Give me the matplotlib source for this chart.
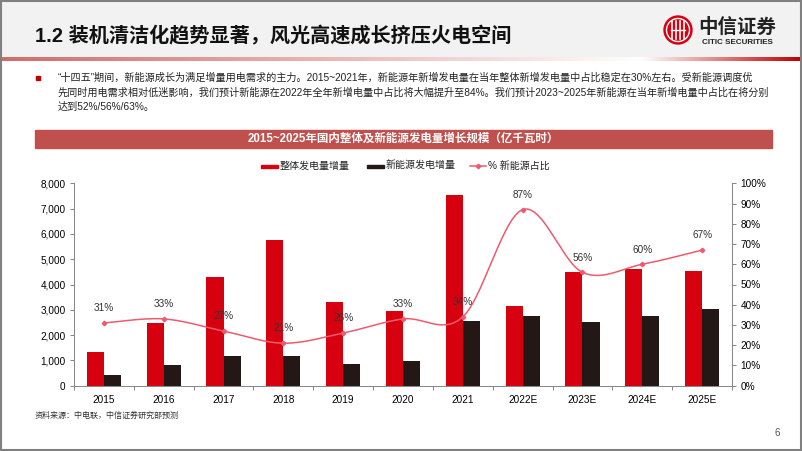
import numpy as np
import matplotlib
matplotlib.use("Agg")
import matplotlib.pyplot as plt
from matplotlib.patches import Rectangle, Circle

plt.rcParams['font.family'] = ['Liberation Sans', 'Noto Sans CJK SC', 'DejaVu Sans']

# data
years = ["2015", "2016", "2017", "2018", "2019", "2020", "2021",
         "2022E", "2023E", "2024E", "2025E"]
total_add = [1345, 2490, 4285, 5760, 3310, 2965, 7540, 3140, 4480, 4625, 4545]
new_add = [410, 805, 1160, 1185, 860, 975, 2545, 2745, 2520, 2755, 3030]
new_share = [0.31, 0.33, 0.27, 0.21, 0.26, 0.33, 0.34, 0.87, 0.56, 0.60, 0.67]
share_labels = ["31%", "33%", "27%", "21%", "26%", "33%", "34%", "87%", "56%", "60%", "67%"]

title = "1.2 装机清洁化趋势显著，风光高速成长挤压火电空间"
bullet_lines = [
    "“十四五”期间，新能源成长为满足增量用电需求的主力。2015~2021年，新能源年新增发电量在当年整体新增发电量中占比稳定在30%左右。受新能源调度优",
    "先同时用电需求相对低迷影响，我们预计新能源在2022年全年新增电量中占比将大幅提升至84%。我们预计2023~2025年新能源在当年新增电量中占比在将分别",
    "达到52%/56%/63%。",
]
chart_title = "2015~2025年国内整体及新能源发电量增长规模（亿千瓦时）"
legend_names = ["整体发电量增量", "新能源发电增量", "% 新能源占比"]
source = "资料来源：中电联，中信证券研究部预测"

RED = "#D7000F"
BLACK = "#231815"
LINE = "#EE5A6E"
GRAY = "#898989"
W, H = 802, 451


def smooth(xs, ys, n=30):
    # excel-like smoothing: bezier through points, control = neighbour diff / 6
    pts = np.column_stack([xs, ys]).astype(float)
    p = np.vstack([pts[0], pts, pts[-1]])
    out = []
    t = np.linspace(0, 1, n)[:, None]
    for i in range(1, len(p) - 2):
        p0, p3 = p[i], p[i + 1]
        c1 = p0 + (p[i + 1] - p[i - 1]) / 6.0
        c2 = p3 - (p[i + 2] - p[i]) / 6.0
        seg = ((1 - t) ** 3) * p0 + 3 * ((1 - t) ** 2) * t * c1 + 3 * (1 - t) * t ** 2 * c2 + t ** 3 * p3
        out.append(seg if i == 1 else seg[1:])
    out = np.vstack(out)
    return out[:, 0], out[:, 1]


fig = plt.figure(figsize=(W / 100, H / 100), dpi=100)

# page decoration in pixel coords
deco = fig.add_axes([0, 0, 1, 1])
deco.axis("off")

deco.add_patch(Rectangle((0, 0), W, 58, color="#F2F2F2", zorder=0))
# header gradient line
grad = np.linspace(0, 1, 400)
c_left = np.array([0.82, 0.42, 0.42])
c_mid = np.array([1.0, 1.0, 1.0])
c_right = np.array([0.75, 0.0, 0.0])
cols = []
for g in grad:
    if g < 0.8:
        f = g / 0.8
        cols.append(c_left * (1 - f) + c_mid * f)
    else:
        f = (g - 0.8) / 0.2
        cols.append(c_mid * (1 - f) + c_right * f)
cols = np.array(cols)[None, :, :]
deco.imshow(cols, extent=(0, W, 61.5, 58), aspect="auto", zorder=1)
deco.set_xlim(0, W)
deco.set_ylim(H, 0)

deco.text(35, 36, title, fontsize=14.5, fontweight="bold", color="#111111",
          va="center", ha="left")

# logo
deco.add_patch(Circle((678, 30), 14, color="#D7000F", zorder=2))
deco.add_patch(Circle((678, 30), 11.5, fill=False, ec="white", lw=1.0, zorder=3))
for dx in (-6, -2, 2, 6):
    deco.plot([678 + dx, 678 + dx], [21, 39], color="white", lw=1.2, zorder=3)
deco.plot([671, 685], [30, 30], color="white", lw=1.0, zorder=3)
deco.text(737, 27, "中信证券", fontsize=14, fontweight="bold", color="#222222",
          ha="center", va="center", family=['Noto Sans CJK SC'])
deco.text(737, 42, "CITIC SECURITIES", fontsize=5.8, fontweight="bold", color="#222222",
          ha="center", va="center")

# bullet paragraph
deco.add_patch(Rectangle((35.5, 76), 4, 4, color="#C00000"))
for i, line in enumerate(bullet_lines):
    deco.text(58, 78 + i * 14.5, line, fontsize=7.3, color="#222222", va="center", ha="left")

# chart banner
deco.add_patch(Rectangle((35, 130), 737, 17.5, color="#C0504D"))
deco.text(403, 138.8, chart_title, fontsize=8.3, fontweight="bold", color="white",
          ha="center", va="center")

# legend
deco.add_patch(Rectangle((261, 164.5), 17, 3.5, color=RED))
deco.text(280, 166, legend_names[0], fontsize=7.2, va="center", ha="left", color="#222222")
deco.add_patch(Rectangle((367, 164.5), 17, 3.5, color=BLACK))
deco.text(386, 166, legend_names[1], fontsize=7.2, va="center", ha="left", color="#222222")
deco.plot([470, 486], [166, 166], color=LINE, lw=1.1)
deco.plot([478], [166], marker="D", ms=2.3, color=LINE)
deco.text(488, 166, legend_names[2], fontsize=7.2, va="center", ha="left", color="#222222")

deco.text(35, 416, source, fontsize=5.8, color="#333333", va="center", ha="left")
deco.text(777, 433, "6", fontsize=7, color="#555555", va="center", ha="center")
deco.add_patch(Rectangle((0.8, 0.8), W - 1.6, H - 1.6, fill=False, ec="#808080", lw=1.5, zorder=5))

# main chart
ax = fig.add_axes([74 / W, 1 - 385.7 / H, (732 - 74) / W, (385.7 - 183.3) / H])
x = np.arange(len(years))
bw = 0.285
ax.bar(x - bw / 2, total_add, bw, color=RED, zorder=2)
ax.bar(x + bw / 2, new_add, bw, color=BLACK, zorder=2)
ax.set_xlim(-0.5, len(years) - 0.5)
ax.set_ylim(0, 8000)
ax.set_yticks(np.arange(0, 8001, 1000))
ax.set_yticklabels([f"{v:,}" for v in range(0, 8001, 1000)])
ax.set_xticks(x)
ax.set_xticklabels(years)
ax.set_xticks(np.arange(-0.5, len(years)), minor=True)
ax.tick_params(axis="x", which="major", length=0, labelsize=7.2, pad=7)
ax.tick_params(axis="x", which="minor", length=3, color=GRAY, width=0.75)
ax.tick_params(axis="y", length=3, color=GRAY, width=0.75, labelsize=7.2, pad=3)
for s in ["top", "right"]:
    ax.spines[s].set_visible(False)
for s in ["left", "bottom"]:
    ax.spines[s].set_color(GRAY)
    ax.spines[s].set_linewidth(0.75)

ax2 = ax.twinx()
ax2.set_ylim(0, 1)
ax2.set_yticks(np.arange(0, 1.01, 0.1))
ax2.set_yticklabels([f"{int(round(v * 100))}%" for v in np.arange(0, 1.01, 0.1)])
ax2.tick_params(axis="y", length=3, color=GRAY, width=0.75, labelsize=7.2, pad=3)
for s in ["top", "left", "bottom"]:
    ax2.spines[s].set_visible(False)
ax2.spines["right"].set_color(GRAY)
ax2.spines["right"].set_linewidth(0.75)

sx, sy = smooth(x, new_share)
ax2.plot(sx, sy, color=LINE, lw=1.1, zorder=3)
ax2.plot(x, new_share, "D", ms=2.3, color=LINE, zorder=4)
for xi, yi, lab in zip(x, new_share, share_labels):
    ax2.annotate(lab, (xi, yi), xytext=(0, 7), textcoords="offset points",
                 ha="center", va="bottom", fontsize=7.2, color="#333333")

fig.savefig("out.png", dpi=100)
